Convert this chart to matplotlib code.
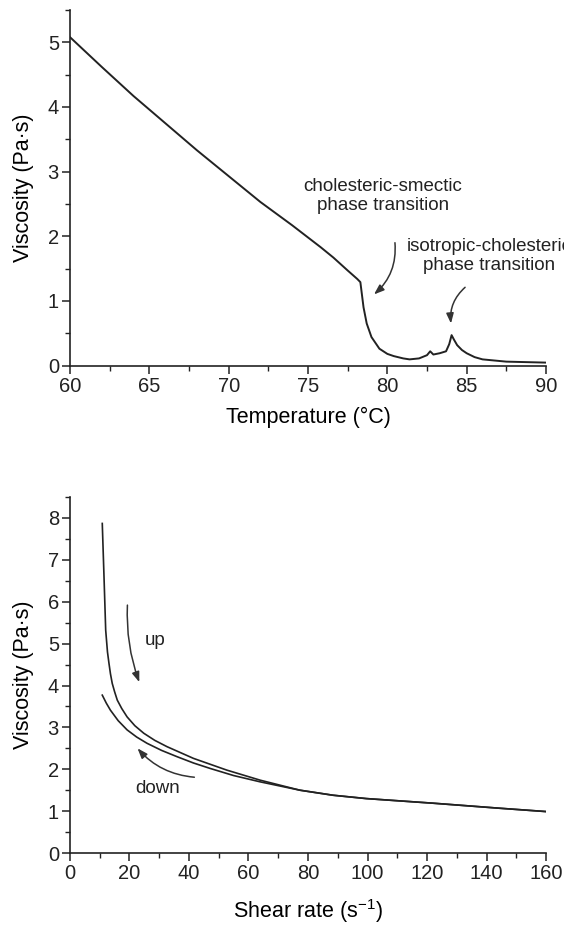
import matplotlib
matplotlib.use("Agg")
import matplotlib.pyplot as plt
from matplotlib.ticker import MultipleLocator

plt.rcParams["font.family"] = ["Liberation Sans", "DejaVu Sans"]
plt.rcParams["mathtext.fontset"] = "custom"
plt.rcParams["mathtext.rm"] = "Liberation Sans"
plt.rcParams["mathtext.default"] = "regular"

# top panel: viscosity vs temperature
temperature = [60, 62, 64, 66, 68, 70, 72, 74, 75.8, 76.6, 77.5,
               78.1, 78.3, 78.5, 78.7, 79.0, 79.5, 80.0, 80.4, 81.0, 81.4, 82.0,
               82.5, 82.7, 82.9, 83.3, 83.7, 83.9, 84.05, 84.2, 84.4, 84.7, 85.0,
               85.5, 86.0, 87.5, 90]
visc_temp = [5.08, 4.62, 4.17, 3.75, 3.33, 2.93, 2.53, 2.17, 1.83, 1.67, 1.47,
             1.34, 1.29, 0.90, 0.65, 0.44, 0.26, 0.18, 0.146, 0.11, 0.095, 0.11,
             0.16, 0.22, 0.17, 0.19, 0.22, 0.33, 0.47, 0.40, 0.315, 0.24, 0.19,
             0.13, 0.095, 0.06, 0.045]

# bottom panel: viscosity vs shear rate
shear_up = [10.85, 11.4, 12.0, 12.6, 13.1, 13.6, 14.2, 15.0, 15.9, 17.4, 19.2,
            21.8, 24.8, 28.5, 32.6, 41.5, 52.7, 63.9, 77.3, 88.4, 99.6, 122,
            144.3, 160]
visc_up = [7.87, 6.67, 5.32, 4.80, 4.53, 4.28, 4.05, 3.85, 3.65, 3.45, 3.25,
           3.04, 2.86, 2.69, 2.54, 2.26, 1.98, 1.74, 1.50, 1.38, 1.30, 1.19,
           1.07, 0.99]
shear_down = [10.85, 12.2, 13.6, 16.2, 19.2, 22.4, 25.9, 30.8, 36.0, 41.5, 47.1,
              55.0, 63.9, 77.3, 88.4, 99.6, 122, 144.3, 160]
visc_down = [3.77, 3.58, 3.41, 3.16, 2.94, 2.77, 2.62, 2.45, 2.30, 2.15, 2.02,
             1.85, 1.70, 1.50, 1.38, 1.30, 1.19, 1.07, 0.99]

LINE = "#222222"


def style_axes(ax):
    for side in ("top", "right"):
        ax.spines[side].set_visible(False)
    for side in ("left", "bottom"):
        ax.spines[side].set_linewidth(1.2)
        ax.spines[side].set_color("#222222")
    ax.tick_params(which="major", direction="out", length=6, width=1.1,
                   labelsize=14.5, pad=2, colors="#222222")
    ax.tick_params(which="minor", direction="out", length=3.5, width=1.0,
                   colors="#222222")


def arrow(ax, start, end, rad):
    ax.annotate("", xy=end, xytext=start,
                arrowprops=dict(arrowstyle="-|>,head_length=0.6,head_width=0.22",
                                mutation_scale=10, color="#333333", lw=1.1,
                                connectionstyle=f"arc3,rad={rad}",
                                shrinkA=0, shrinkB=0))


fig = plt.figure(figsize=(5.64, 9.27), dpi=100)

ax1 = fig.add_axes([0.1241, 0.6057, 0.844, 0.3835])
ax1.plot(temperature, visc_temp, color=LINE, lw=1.4)
ax1.set_xlim(60, 90)
ax1.set_ylim(0, 5.5)
ax1.xaxis.set_major_locator(MultipleLocator(5))
ax1.xaxis.set_minor_locator(MultipleLocator(2.5))
ax1.yaxis.set_major_locator(MultipleLocator(1))
ax1.yaxis.set_minor_locator(MultipleLocator(0.5))
style_axes(ax1)
ax1.set_xlabel("Temperature (°C)", fontsize=15.5, labelpad=8)
ax1.set_ylabel("Viscosity (Pa·s)", fontsize=15.5, labelpad=10)

ax1.text(79.73, 2.62, "cholesteric-smectic\nphase transition", fontsize=13.5,
         ha="center", va="center", multialignment="center", linespacing=1.15,
         color="#222222")
ax1.text(86.44, 1.70, "isotropic-cholesteric\nphase transition", fontsize=13.5,
         ha="center", va="center", multialignment="center", linespacing=1.15,
         color="#222222", clip_on=False)
arrow(ax1, (80.48, 1.90), (79.16, 1.10), -0.25)
arrow(ax1, (84.9, 1.21), (84.01, 0.65), 0.25)

ax2 = fig.add_axes([0.1241, 0.0798, 0.844, 0.384])
ax2.plot(shear_up, visc_up, color=LINE, lw=1.2)
ax2.plot(shear_down, visc_down, color=LINE, lw=1.2)
ax2.set_xlim(0, 160)
ax2.set_ylim(0, 8.5)
ax2.xaxis.set_major_locator(MultipleLocator(20))
ax2.xaxis.set_minor_locator(MultipleLocator(10))
ax2.yaxis.set_major_locator(MultipleLocator(1))
ax2.yaxis.set_minor_locator(MultipleLocator(0.5))
style_axes(ax2)
ax2.set_xlabel("Shear rate (s$^{-1}$)", fontsize=15.5, labelpad=10)
ax2.set_ylabel("Viscosity (Pa·s)", fontsize=15.5, labelpad=10)

ax2.text(28.7, 5.08, "up", fontsize=13.5, ha="center", va="center",
         color="#222222")
ax2.text(29.4, 1.55, "down", fontsize=13.5, ha="center", va="center",
         color="#222222")
arrow(ax2, (19.3, 5.92), (23.3, 4.08), 0.1)
arrow(ax2, (41.8, 1.81), (22.7, 2.5), -0.2)

fig.savefig("out.png", dpi=100)
